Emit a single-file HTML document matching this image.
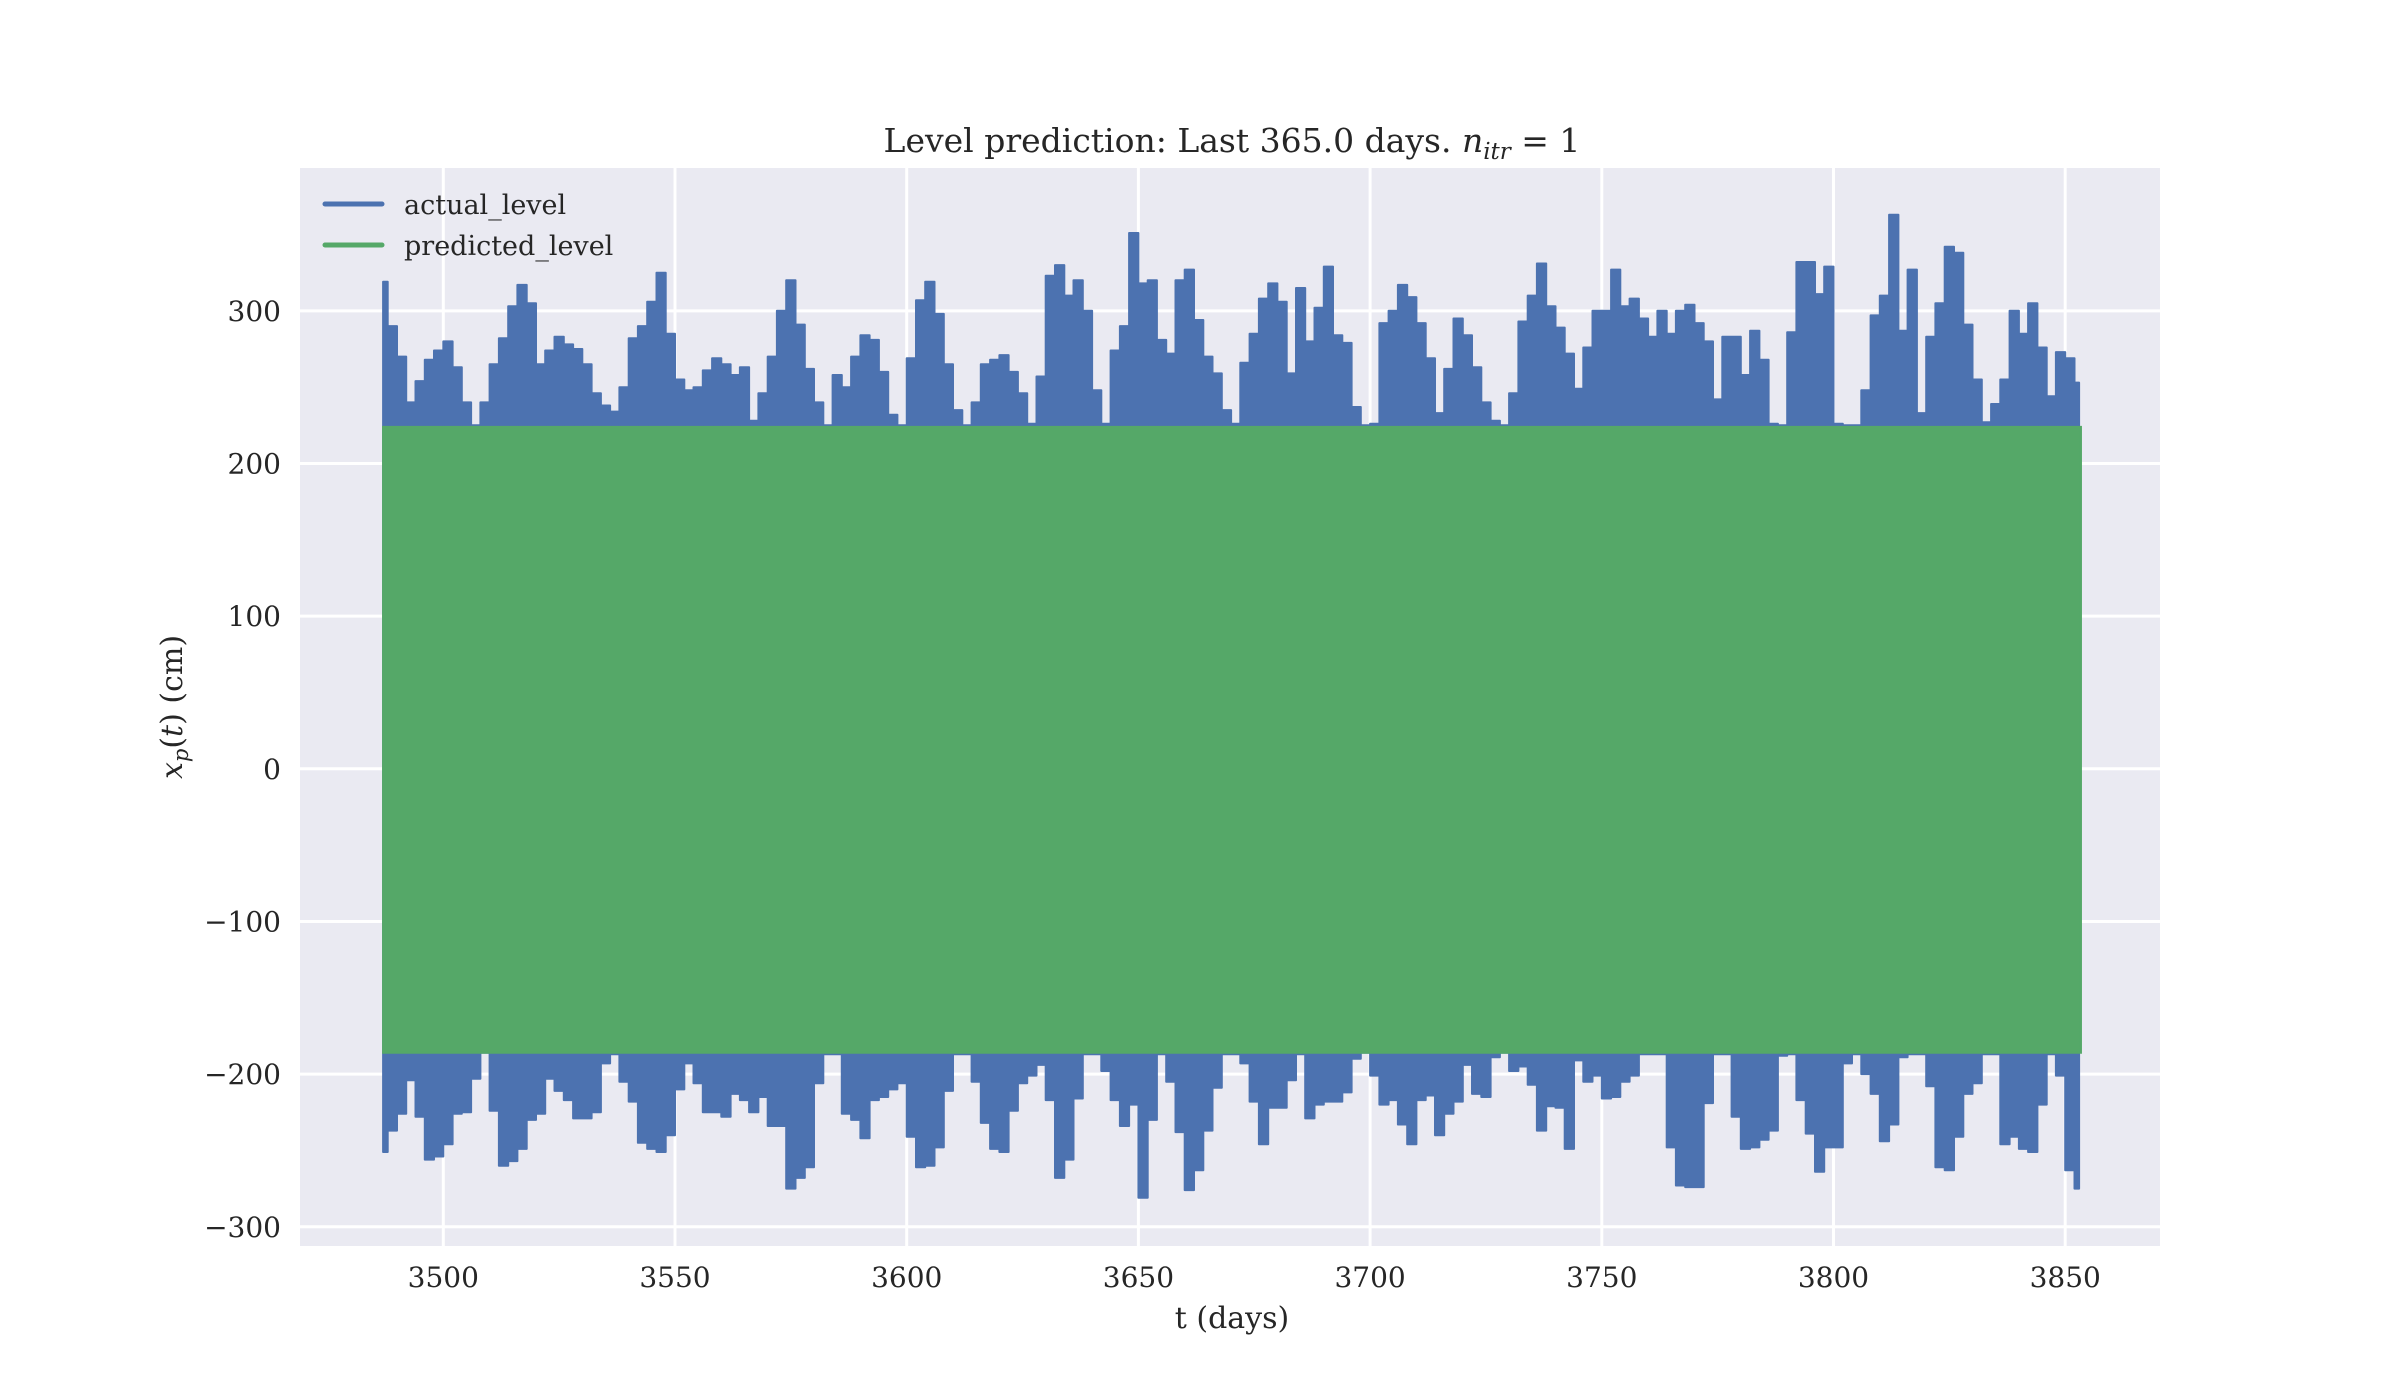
<!DOCTYPE html>
<html>
<head>
<meta charset="utf-8">
<style>
  html,body{margin:0;padding:0;background:#fff;}
  svg{display:block;font-family:"DejaVu Serif","Liberation Serif",serif;}
</style>
</head>
<body>
<svg id="chart" width="2400" height="1400" viewBox="0 0 2400 1400" xmlns="http://www.w3.org/2000/svg">
  <rect x="0" y="0" width="2400" height="1400" fill="#ffffff"/>
  <rect x="300" y="168" width="1860" height="1078" fill="#eaeaf2"/>
  <g id="grid"></g>
  <g id="series"></g>
  <g id="ticks"></g>
  <text x="1232" y="152" text-anchor="middle" font-size="33" fill="#262626">Level prediction: Last 365.0 days. <tspan font-style="italic">n</tspan><tspan font-style="italic" font-size="23" dy="7">itr</tspan><tspan dy="-7"> = 1</tspan></text>
  <text x="1232" y="1328" text-anchor="middle" font-size="30" fill="#262626">t (days)</text>
  <text transform="translate(182,707) rotate(-90)" text-anchor="middle" font-size="30" fill="#262626"><tspan font-style="italic">x</tspan><tspan font-style="italic" font-size="21" dy="6">p</tspan><tspan dy="-6">(</tspan><tspan font-style="italic">t</tspan>) (cm)</text>
  <g>
    <line x1="325" y1="204" x2="382" y2="204" stroke="#4c72b0" stroke-width="5" stroke-linecap="round"/>
    <text x="404" y="214" font-size="27" fill="#262626">actual_level</text>
    <line x1="325" y1="245" x2="382" y2="245" stroke="#55a868" stroke-width="5" stroke-linecap="round"/>
    <text x="404" y="255" font-size="27" fill="#262626">predicted_level</text>
  </g>
</svg>
<script>
const tStart = 3487;
const tStep = 2;
const actualHigh = [319,290,270,240,254,268,274,280,263,240,225,240,265,282,303,317,305,265,274,283,278,275,265,246,238,234,250,282,290,306,325,285,255,248,250,261,269,265,258,263,228,246,270,300,320,291,262,240,225,258,250,270,284,281,260,232,225,269,307,319,298,265,235,225,240,265,268,271,260,246,226,257,323,330,310,320,300,248,226,274,290,351,318,320,281,272,320,327,294,270,259,235,226,266,285,308,318,306,259,315,280,302,329,284,279,237,225,226,292,300,317,309,292,269,233,262,295,284,263,240,228,225,246,293,310,331,303,289,272,249,276,300,300,327,303,308,295,283,300,285,300,304,292,280,242,283,283,258,287,268,226,225,286,332,332,311,329,226,225,225,248,297,310,363,287,327,233,283,305,342,338,291,255,227,239,255,300,285,305,276,244,273,269,253];
const actualLow = [-251,-237,-226,-204,-228,-256,-254,-246,-226,-225,-203,-186,-224,-260,-257,-249,-230,-226,-203,-211,-217,-229,-229,-225,-193,-187,-205,-218,-245,-249,-251,-240,-210,-193,-206,-225,-225,-228,-213,-217,-225,-215,-234,-234,-275,-268,-261,-206,-187,-187,-226,-230,-242,-217,-215,-210,-206,-241,-261,-260,-248,-211,-187,-187,-205,-232,-249,-251,-224,-206,-201,-194,-217,-268,-256,-216,-187,-187,-198,-217,-234,-220,-281,-230,-187,-205,-238,-276,-263,-237,-209,-187,-187,-193,-218,-246,-222,-222,-204,-187,-229,-220,-218,-218,-212,-190,-186,-201,-220,-217,-233,-246,-217,-214,-240,-226,-218,-194,-213,-215,-189,-186,-198,-195,-207,-237,-221,-222,-249,-191,-205,-201,-216,-215,-205,-201,-187,-187,-187,-248,-273,-274,-274,-219,-187,-187,-228,-249,-248,-243,-237,-188,-187,-217,-239,-264,-248,-248,-193,-187,-200,-213,-244,-233,-189,-187,-187,-208,-261,-263,-241,-213,-206,-187,-187,-246,-241,-249,-251,-220,-187,-201,-263,-275];
const predT = [3487, 3853.4];
const predHigh = [224, 224];
const predLow = [-186, -186];
const xTicks = [3500,3550,3600,3650,3700,3750,3800,3850];
const yTicks = [-300,-200,-100,0,100,200,300];
const yTickLabels = ["\u2212300","\u2212200","\u2212100","0","100","200","300"];

const NS = "http://www.w3.org/2000/svg";
function xScale(t){ return 443.3 + (t - 3500) * 4.634; }
function yScale(v){ return 768.8 - v * 1.5265; }
function mk(tag, attrs, parent){
  const el = document.createElementNS(NS, tag);
  for (const k in attrs) el.setAttribute(k, attrs[k]);
  parent.appendChild(el);
  return el;
}
const grid = document.getElementById('grid');
const series = document.getElementById('series');
const ticks = document.getElementById('ticks');

xTicks.forEach(function(t){
  const x = xScale(t);
  const g = mk('line', {x1:x, y1:168, x2:x, y2:1246, stroke:'#ffffff', 'stroke-width':3}, grid);
  
  
  const lb = mk('text', {x:x, y:1287, 'text-anchor':'middle', 'font-size':28, fill:'#262626'}, ticks);
  lb.textContent = String(t);
  
  
});
yTicks.forEach(function(v, i){
  const y = yScale(v);
  const g = mk('line', {x1:300, y1:y, x2:2160, y2:y, stroke:'#ffffff', 'stroke-width':3}, grid);
  
  
  const lb = mk('text', {x:281, y:y + 10, 'text-anchor':'end', 'font-size':28, fill:'#262626'}, ticks);
  lb.textContent = yTickLabels[i];
  
  
});

let d = '';
for (let i = 0; i < actualHigh.length; i++){
  const t = tStart + i * tStep;
  const x0 = xScale(Math.max(tStart, t - tStep / 2));
  const x1 = xScale(Math.min(tStart + (actualHigh.length - 1) * tStep, t + tStep / 2));
  const y0 = yScale(actualHigh[i]);
  const y1 = yScale(actualLow[i]);
  d += 'M' + x0.toFixed(1) + ' ' + y0.toFixed(1) + 'H' + x1.toFixed(1) + 'V' + y1.toFixed(1) + 'H' + x0.toFixed(1) + 'Z';
}
const actual = mk('path', {d:d, fill:'#4c72b0', stroke:'#4c72b0', 'stroke-width':2, 'stroke-linejoin':'round'}, series);



let pd = 'M' + xScale(predT[0]) + ' ' + yScale(predHigh[0]);
for (let i = 1; i < predT.length; i++) pd += 'L' + xScale(predT[i]) + ' ' + yScale(predHigh[i]);
for (let i = predT.length - 1; i >= 0; i--) pd += 'L' + xScale(predT[i]) + ' ' + yScale(predLow[i]);
pd += 'Z';
const pred = mk('path', {d:pd, fill:'#55a868', stroke:'#55a868', 'stroke-width':2}, series);


</script>
</body>
</html>
